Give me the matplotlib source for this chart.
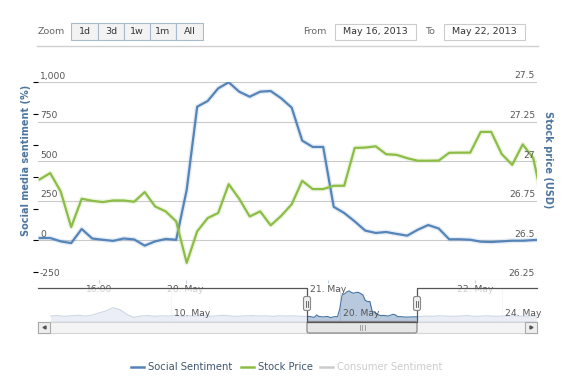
import numpy as np
import matplotlib
matplotlib.use('Agg')
import matplotlib.pyplot as plt
import matplotlib.patheffects as pe
from matplotlib.patches import Rectangle, FancyBboxPatch

W, H = 570, 387

# one value per trading hour, shown in the main plot
social = [15, 15, -6, -17, 72, 12, 4, -3, 12, 6, -33, -6, 9, 4, 319, 844, 880, 960,
          998, 939, 907, 939, 943, 897, 838, 630, 590, 590, 212, 173, 120, 62, 47, 53,
          41, 30, 67, 97, 75, 7, 7, 4, -8, -10, -6, -2, -2, 2, 4]
stock = [26.885, 26.925, 26.809, 26.584, 26.763, 26.750, 26.742, 26.752, 26.752, 26.744,
         26.805, 26.714, 26.683, 26.620, 26.358, 26.557, 26.641, 26.673, 26.855, 26.763,
         26.651, 26.683, 26.595, 26.655, 26.728, 26.876, 26.824, 26.824, 26.845, 26.845,
         27.084, 27.086, 27.094, 27.044, 27.040, 27.019, 27.003, 27.003, 27.004, 27.053,
         27.054, 27.054, 27.185, 27.185, 27.045, 26.977, 27.106, 27.020, 26.710]

x_ticks = [5.65, 13.9, 27.43, 41.46]
x_labels = ['16:00', '20. May', '21. May', '22. May']
left_ticks = [-250, 0, 250, 500, 750, 1000]
left_labels = ['-250', '0', '250', '500', '750', '1,000']
right_ticks = [26.25, 26.5, 26.75, 27, 27.25, 27.5]
right_labels = ['26.25', '26.5', '26.75', '27', '27.25', '27.5']

# navigator: social sentiment outside the selected range (every 3 hours)
nav_before = [30, 50, 20, 40, 60, 30, 70, 150, 230, 350, 280, 90, -20, 30, 50, 20, 40,
              30, 60, 20, 40, 30, 50, 20, 40, 60, 30, 20, 40, 50, 30, 40, 20, 40, 30, 40, 20]
nav_after = [30, 20, 40, 30, 20, 30, 50, 20, 30, 40, 20, 30, 40, 30, 20, 30, 40]
nav_ticks = [-59.1, 14.05, 83.9]
nav_labels = ['10. May', '20. May', '24. May']

BLUE = '#5584b9'
GREEN = '#8cbd45'
TXT = '#555555'


def box(x0, y0, x1, y1):
    return [x0 / W, 1 - y1 / H, (x1 - x0) / W, (y1 - y0) / H]


fig = plt.figure(figsize=(W / 100, H / 100), dpi=100)
fig.patch.set_facecolor('white')

# ---- main plot ----
xlim = (-0.16, 47.36)
ax = fig.add_axes(box(38, 82, 537, 280))
ax.set_xlim(*xlim)
ax.set_ylim(-250, 1000)
for s in ax.spines.values():
    s.set_visible(False)
ax.set_facecolor('none')
ax.tick_params(axis='y', left=False, labelleft=False)
ax.set_xticks(x_ticks)
ax.set_xticklabels([])
ax.tick_params(axis='x', length=2.5, color='#C0D0E0', width=0.8)
for v in left_ticks:
    ax.axhline(v, color='#CACACA', lw=0.8, zorder=0)
for v, lab in zip(left_ticks, left_labels):
    ax.annotate(lab, xy=(0, v), xycoords=('axes fraction', 'data'), xytext=(2, 1.5),
                textcoords='offset pixels', ha='left', va='bottom', fontsize=6.6, color=TXT)
for t, lab in zip(x_ticks, x_labels):
    ax.annotate(lab, xy=(t, 0), xycoords=('data', 'axes fraction'), xytext=(0, -10),
                textcoords='offset pixels', ha='center', va='center', fontsize=6.6, color=TXT)

glow = lambda c: [pe.Stroke(linewidth=3.6, foreground=c, alpha=0.14), pe.Normal()]
ax.plot(np.arange(len(social)), social, color=BLUE, lw=1.6, solid_joinstyle='round',
        path_effects=glow(BLUE))

ax2 = ax.twinx()
ax2.set_ylim(26.25, 27.5)
for s in ax2.spines.values():
    s.set_visible(False)
ax2.tick_params(axis='y', right=False, labelright=False)
for v, lab in zip(right_ticks, right_labels):
    ax2.annotate(lab, xy=(1, v), xycoords=('axes fraction', 'data'), xytext=(-2, 1.5),
                 textcoords='offset pixels', ha='right', va='bottom', fontsize=6.6, color=TXT)
ax2.plot(np.arange(len(stock)), stock, color=GREEN, lw=1.6, solid_joinstyle='round',
         path_effects=glow(GREEN))

# ---- navigator ----
nav = fig.add_axes(box(38, 288, 537, 321))
nav_x = np.concatenate([-111 + 3 * np.arange(len(nav_before)), np.arange(len(social)),
                        51 + 3 * np.arange(len(nav_after))])
nav_y = np.concatenate([nav_before, social, nav_after])
nav.set_xlim(-116.4, 99.2)
nav.set_ylim(-160, 1110)
nav.axis('off')
for t in nav_ticks:
    nav.axvline(t, color='#E4E4E4', lw=0.8, zorder=0)
nav.fill_between(nav_x, nav_y, -160, color='#4572A7', alpha=0.38, lw=0, zorder=1)
nav.plot(nav_x, nav_y, color='#4572A7', lw=0.8, zorder=2)
nav.axvspan(-116.4, xlim[0], color='white', alpha=0.72, lw=0, zorder=3)
nav.axvspan(xlim[1], 99.2, color='white', alpha=0.72, lw=0, zorder=3)
for t, lab in zip(nav_ticks, nav_labels):
    nav.annotate(lab, xy=(t, 0), xycoords=('data', 'axes fraction'), xytext=(3, 7),
                 textcoords='offset pixels', ha='left', va='center', fontsize=6.6,
                 color=TXT, zorder=4)

# ---- overlay: range selector, navigator frame, scrollbar, legend, titles ----
ui = fig.add_axes([0, 0, 1, 1], zorder=5)
ui.set_xlim(0, W)
ui.set_ylim(H, 0)
ui.axis('off')

ui.plot([36.5, 538], [46, 46], color='#D0D0D0', lw=1)
ui.text(38, 31.5, 'Zoom', fontsize=6.8, color='#666666', va='center', ha='left')
edges = [71, 98, 124, 150, 176, 203]
for (a, b), lab in zip(zip(edges[:-1], edges[1:]), ['1d', '3d', '1w', '1m', 'All']):
    ui.add_patch(Rectangle((a, 23), b - a, 16.5, facecolor='#F3F3F3', edgecolor='#A9BACB', lw=0.8))
    ui.text((a + b) / 2, 31.5, lab, fontsize=6.8, color='#333333', ha='center', va='center')
ui.text(303, 31.5, 'From', fontsize=6.8, color='#666666', va='center', ha='left')
ui.add_patch(Rectangle((335, 23.5), 81, 16, facecolor='white', edgecolor='#CCCCCC', lw=0.8))
ui.text(375.5, 31.5, 'May 16, 2013', fontsize=6.8, color='#333333', ha='center', va='center')
ui.text(425, 31.5, 'To', fontsize=6.8, color='#666666', va='center', ha='left')
ui.add_patch(Rectangle((443.5, 23.5), 81, 16, facecolor='white', edgecolor='#CCCCCC', lw=0.8))
ui.text(484, 31.5, 'May 22, 2013', fontsize=6.8, color='#333333', ha='center', va='center')

# scrollbar
ui.add_patch(Rectangle((37.5, 321.5), 499.5, 11.5, facecolor='#F4F4F4', edgecolor='#D5D5D5', lw=0.8))
for bx, mk in [(37.5, '<'), (525, '>')]:
    ui.add_patch(Rectangle((bx, 321.5), 12, 11.5, facecolor='#EEEEEE', edgecolor='#AAAAAA', lw=0.8))
    ui.plot(bx + 6, 327.2, marker=mk, ms=2.2, color='#555555')
ui.add_patch(FancyBboxPatch((307, 321.5), 110, 11.5, boxstyle='round,pad=0,rounding_size=2',
                            facecolor='#E6E6E6', edgecolor='#8A8A8A', lw=0.9))
for gx in [359.5, 362, 364.5]:
    ui.plot([gx, gx], [325, 330], color='#A0A0A0', lw=0.7)

# navigator frame and handles
ui.plot([38, 307, 307, 417, 417, 537], [288, 288, 321.5, 321.5, 288, 288], color='#555555', lw=0.9)
for hx in [307, 417]:
    ui.add_patch(FancyBboxPatch((hx - 3.5, 296.5), 7, 14, boxstyle='round,pad=0,rounding_size=2',
                                facecolor='#EEEEEE', edgecolor='#888888', lw=0.8, zorder=6))
    for dx in (-1, 1):
        ui.plot([hx + dx, hx + dx], [300.5, 306.5], color='#555555', lw=0.6, zorder=7)

# legend
for x0, col, lab, tcol in [(131, BLUE, 'Social Sentiment', '#3E576F'),
                           (241, GREEN, 'Stock Price', '#3E576F'),
                           (320, '#CCCCCC', 'Consumer Sentiment', '#CCCCCC')]:
    ui.plot([x0, x0 + 13], [366.5, 366.5], color=col, lw=1.8)
    ui.text(x0 + 17, 366.5, lab, fontsize=7.2, color=tcol, ha='left', va='center')

# axis titles
ui.text(26, 160, 'Social media sentiment (%)', rotation=90, fontsize=7, fontweight='bold',
        color='#4d759e', ha='center', va='center')
ui.text(548, 160, 'Stock price (USD)', rotation=270, fontsize=7, fontweight='bold',
        color='#4d759e', ha='center', va='center')

fig.savefig('out.png', dpi=100, facecolor='white')
